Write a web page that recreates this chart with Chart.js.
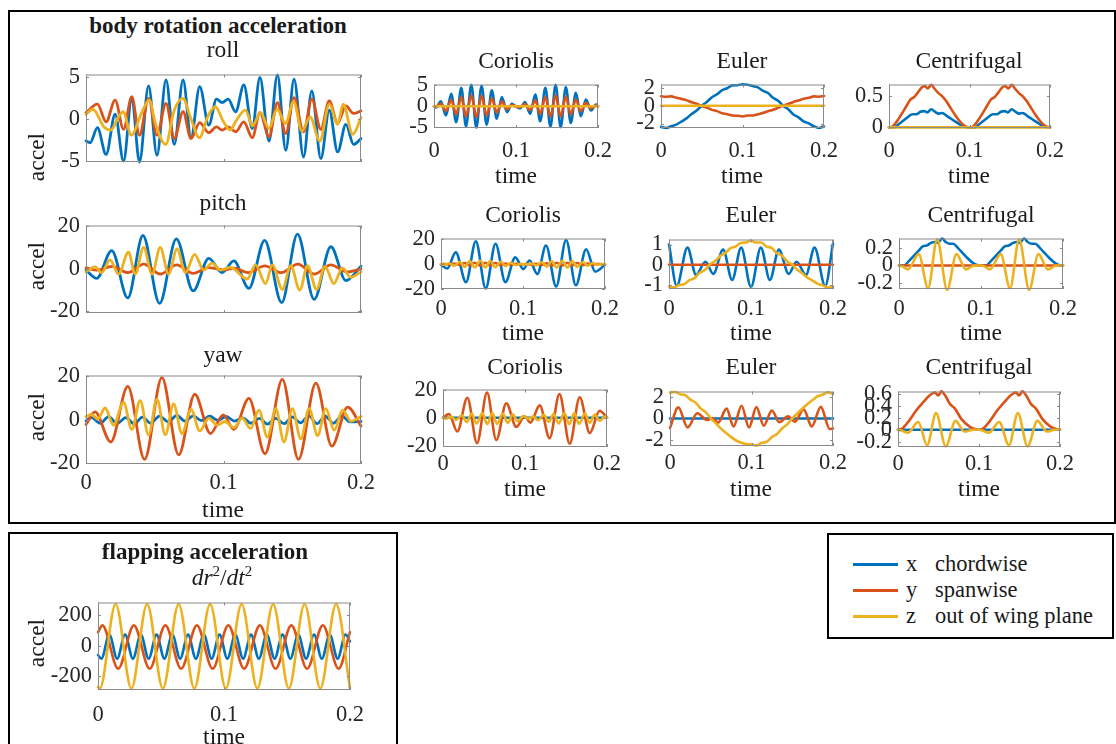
<!DOCTYPE html>
<html>
<head>
<meta charset="utf-8">
<script src="https://cdn.jsdelivr.net/npm/chart.js@4/dist/chart.umd.min.js"></script>
<style>
body { margin:0; background:#fff; width:1116px; height:744px; overflow:hidden; position:relative; font-family:"Liberation Serif", serif; color:#1a1a1a; }
.box { position:absolute; border:2px solid #000; box-sizing:border-box; }
.plot { position:absolute; }
.lbl { position:absolute; transform:translate(-50%,-50%); white-space:nowrap; font-size:23.5px; line-height:1; }
.rot { transform:translate(-50%,-50%) rotate(-90deg); }
.bold { font-weight:bold; font-size:23px; }
.leg { position:absolute; transform:translateY(-50%); font-size:22.5px; line-height:1; white-space:nowrap; }
.swatch { position:absolute; height:3px; width:45px; }
</style>
</head>
<body>
<div class="box" style="left:8px;top:10px;width:1108px;height:514px"></div>
<div class="box" style="left:8px;top:532px;width:390px;height:240px"></div>
<div class="box" style="left:827px;top:533px;width:287px;height:106px"></div>

<script>
// time axis ticks shared by every panel
const timeTicks = [0, 0.1, 0.2];

// body rotation: roll [t, value]
const rollX = [[0,-2.6],[0.003,-2.8],[0.0083,-1.0],[0.0146,-4.2],[0.0212,0.6],[0.0273,-5.0],[0.0333,2.6],[0.0389,-5.1],[0.0455,4.0],[0.0516,-4.3],[0.0582,4.7],[0.0642,-3.0],[0.0706,4.7],[0.0764,-2.2],[0.0827,3.9],[0.0893,-0.7],[0.0949,2.4],[0.099,2.0],[0.1034,2.4],[0.1088,0.9],[0.1148,4.1],[0.1209,-1.1],[0.1265,5.0],[0.1331,-2.6],[0.1392,5.3],[0.1453,-3.7],[0.1513,4.8],[0.1582,-4.5],[0.1642,3.4],[0.1708,-4.7],[0.1769,1.1],[0.183,-3.9],[0.189,-0.6],[0.1946,-3.0],[0.2,-2.3]];
const rollY = [[0,0.8],[0.0083,1.8],[0.0146,-0.3],[0.0212,2.3],[0.0273,-1.2],[0.0333,2.7],[0.0389,-1.9],[0.0455,2.5],[0.0516,-1.9],[0.0582,1.9],[0.0642,-2.3],[0.0706,0.9],[0.0764,-2.3],[0.0827,-0.4],[0.0893,-1.6],[0.0949,-0.9],[0.099,-1.3],[0.1034,-0.9],[0.1088,-1.5],[0.1148,-0.3],[0.1209,-2.2],[0.1265,0.8],[0.1331,-2.1],[0.1392,2.0],[0.1453,-1.7],[0.1513,2.6],[0.1582,-1.5],[0.1642,2.4],[0.1708,-1.2],[0.1769,2.2],[0.183,-0.5],[0.189,1.6],[0.1946,0.7],[0.2,1.0]];
const rollZ = [[0,0.6],[0.005,1.2],[0.013,-0.9],[0.018,-1.3],[0.024,0.4],[0.027,0.9],[0.033,-1.9],[0.04,0.6],[0.046,2.3],[0.0505,-0.5],[0.058,-3.0],[0.064,1.0],[0.0705,2.5],[0.076,0.2],[0.0825,-2.2],[0.0885,0.3],[0.094,1.5],[0.1,-0.3],[0.105,-1.3],[0.109,-0.2],[0.116,1.1],[0.121,-0.8],[0.127,0.8],[0.133,-1.1],[0.139,1.2],[0.145,-0.5],[0.151,2.1],[0.157,-1.4],[0.163,0.3],[0.17,-2.6],[0.177,1.8],[0.183,-0.6],[0.187,1.8],[0.194,-1.8],[0.2,0.2]];

// pitch
const pitchX = [[0,-0.6],[0.0078,-4.5],[0.0187,8.6],[0.0304,-13.7],[0.0414,15.7],[0.0535,-16.3],[0.0657,14.1],[0.0779,-10.4],[0.0893,4.9],[0.099,-1.8],[0.1075,3.7],[0.1185,-9.2],[0.1299,13.4],[0.1423,-15.9],[0.1538,16.3],[0.1659,-14.4],[0.1781,10.4],[0.189,-5.5],[0.2,1.2]];
const pitchY = [[0,0.4],[0.008,-0.6],[0.019,1.2],[0.0305,-1.8],[0.042,2.2],[0.054,-2.5],[0.066,1.9],[0.078,-2.1],[0.089,0.6],[0.1,-0.5],[0.108,0.3],[0.118,-1.8],[0.13,1.4],[0.142,-1.8],[0.154,2.2],[0.166,-2.5],[0.178,1.9],[0.19,-1.5],[0.2,0]];
const pitchZ = [[0,-1.5],[0.0066,0.9],[0.0114,-1.8],[0.0175,4.2],[0.0236,-2.5],[0.0309,7.9],[0.0358,-2.5],[0.0419,10.1],[0.048,-2.5],[0.054,10.1],[0.0601,-2.5],[0.0662,9.4],[0.0723,-1.8],[0.079,6.8],[0.0856,-0.6],[0.0917,2.7],[0.0977,-0.6],[0.105,0.7],[0.1172,-4.8],[0.1233,1.9],[0.1306,-7.0],[0.1355,1.9],[0.1428,-9.7],[0.1489,1.5],[0.1555,-10.0],[0.1611,1.5],[0.1677,-9.7],[0.1738,1.2],[0.1803,-7.0],[0.1864,0.4],[0.1925,-4.0],[0.2,-1.5]];

// yaw
const yawX = [[0,-0.5],[0.004,1.0],[0.0105,-1.6],[0.0165,1.4],[0.0225,-1.8],[0.029,1.0],[0.035,-1.9],[0.041,1.2],[0.047,-1.6],[0.0535,1.7],[0.06,-1.0],[0.066,2.0],[0.072,-0.6],[0.078,1.8],[0.084,-0.4],[0.09,1.6],[0.096,-0.3],[0.102,1.5],[0.108,-0.6],[0.114,0.8],[0.12,-1.6],[0.126,0.6],[0.132,-2.0],[0.138,0.6],[0.144,-1.8],[0.15,1.3],[0.156,-1.4],[0.162,1.8],[0.168,-1.8],[0.174,1.6],[0.18,-1.6],[0.186,1.8],[0.192,-1.0],[0.2,-0.8]];
const yawY = [[0,-2.2],[0.0066,3.6],[0.018,-10.2],[0.0304,15.3],[0.0426,-18.2],[0.0552,19.3],[0.0674,-16.1],[0.0791,11.7],[0.0905,-6.3],[0.0998,2.2],[0.1075,-4.4],[0.1185,9.8],[0.1302,-15.6],[0.1428,18.5],[0.1545,-18.2],[0.1672,16.8],[0.1788,-12.1],[0.1903,5.8],[0.2,-2.9]];
const yawZ = [[0,1.5],[0.004,2.4],[0.0085,0.3],[0.0139,5.4],[0.02,-2.5],[0.0273,8.0],[0.0333,-4.4],[0.0394,8.8],[0.0455,-6.9],[0.0516,9.5],[0.0577,-6.9],[0.0637,7.3],[0.0698,-6.3],[0.0764,4.8],[0.0827,-5.1],[0.0893,0.7],[0.0954,-2.5],[0.101,-0.8],[0.1075,-3.6],[0.1136,0.7],[0.1197,-4.0],[0.1258,4.4],[0.1319,-8.0],[0.138,5.1],[0.144,-10.2],[0.1501,5.1],[0.1562,-8.8],[0.1623,5.1],[0.1684,-7.3],[0.1744,5.1],[0.1805,-4.8],[0.1866,4.4],[0.1927,-0.7],[0.2,1.5]];

// a term that stays at zero
const zeroLine = [[0,0],[0.2,0]];

// Coriolis, row 1 (roll)
const c1X = [[0,0],[0.0025,-0.3],[0.0083,1.2],[0.0146,-2.2],[0.021,3.0],[0.027,-3.8],[0.0333,4.4],[0.039,-4.8],[0.0455,5.1],[0.0516,-5.1],[0.058,4.9],[0.0642,-4.4],[0.0705,3.8],[0.0765,-3.0],[0.0827,2.2],[0.089,-1.4],[0.095,0.6],[0.1,-0.1],[0.105,-0.5],[0.111,1.0],[0.1172,-1.8],[0.1235,2.8],[0.1295,-3.6],[0.1358,4.4],[0.142,-4.9],[0.1483,5.1],[0.1545,-5.0],[0.1608,4.6],[0.1668,-4.0],[0.173,3.2],[0.179,-2.4],[0.1853,1.6],[0.1915,-1.0],[0.1975,0.4],[0.2,0]];
const c1Y = [[0,0],[0.0025,-0.1],[0.0083,0.6],[0.0146,-1.1],[0.021,1.5],[0.027,-1.9],[0.0333,2.2],[0.039,-2.4],[0.0455,2.6],[0.0516,-2.6],[0.058,2.5],[0.0642,-2.2],[0.0705,1.9],[0.0765,-1.5],[0.0827,1.1],[0.089,-0.7],[0.095,0.3],[0.1,0],[0.105,-0.2],[0.111,0.5],[0.1172,-0.9],[0.1235,1.4],[0.1295,-1.8],[0.1358,2.2],[0.142,-2.5],[0.1483,2.6],[0.1545,-2.5],[0.1608,2.3],[0.1668,-2.0],[0.173,1.6],[0.179,-1.2],[0.1853,0.8],[0.1915,-0.5],[0.1975,0.2],[0.2,0]];

// Euler terms share one time grid
const eulerT = [0,0.00625,0.0125,0.01875,0.025,0.03125,0.0375,0.04375,0.05,0.05625,0.0625,0.06875,0.075,0.08125,0.0875,0.09375,0.1,0.10625,0.1125,0.11875,0.125,0.13125,0.1375,0.14375,0.15,0.15625,0.1625,0.16875,0.175,0.18125,0.1875,0.19375,0.2];
const e1X = [-2.38,-2.5,-2.3,-2.12,-1.78,-1.42,-0.92,-0.52,0.02,0.44,0.96,1.3,1.76,1.98,2.3,2.32,2.42,2.38,2.22,2.08,1.7,1.44,0.9,0.56,-0.02,-0.4,-0.98,-1.3,-1.76,-1.98,-2.3,-2.5,-2.32];
const e1Y = [1.08,1.02,1.06,0.92,0.78,0.64,0.4,0.24,-0.02,-0.2,-0.46,-0.6,-0.84,-0.94,-1.1,-1.12,-1.2,-1.1,-1.1,-0.96,-0.82,-0.62,-0.44,-0.22,0.02,0.2,0.44,0.6,0.8,0.9,1.06,1.02,1.1];
const e2Z = [-1.08,-1.12,-1.0,-0.96,-0.76,-0.66,-0.4,-0.26,0.02,0.18,0.44,0.58,0.82,0.9,1.08,1.1,1.2,1.1,1.1,0.9,0.84,0.58,0.46,0.18,0.02,-0.24,-0.42,-0.64,-0.78,-0.94,-1.02,-1.12,-1.08];
const e3Z = [2.45,2.5,2.3,2.2,1.78,1.5,0.96,0.6,0.02,-0.46,-0.96,-1.36,-1.76,-2.08,-2.3,-2.42,-2.45,-2.55,-2.3,-2.2,-1.76,-1.46,-0.94,-0.56,0.0,0.48,0.94,1.38,1.74,2.1,2.26,2.48,2.3];
const e2X = [[0,1.0],[0.0095,-1.05],[0.0225,0.85],[0.033,-0.5],[0.0445,0.15],[0.054,-0.45],[0.066,0.75],[0.077,-0.75],[0.088,0.85],[0.1,-1.1],[0.112,0.85],[0.123,-0.75],[0.134,0.75],[0.146,-0.45],[0.1555,0.15],[0.167,-0.5],[0.1775,0.85],[0.1905,-1.05],[0.2,1.05]];
const e3Y = [[0,-0.9],[0.0102,1.05],[0.0216,-0.85],[0.0335,0.5],[0.0455,-0.15],[0.052,0.05],[0.059,-0.4],[0.0694,0.93],[0.078,-0.76],[0.0878,1.2],[0.097,-0.85],[0.106,1.07],[0.115,-0.68],[0.125,0.75],[0.134,-0.35],[0.145,0.2],[0.153,-0.3],[0.164,0.85],[0.174,-0.76],[0.185,1.1],[0.196,-1.0],[0.2,-0.95]];

// centrifugal
const f1X = [[0,0],[0.006,0],[0.012,0.05],[0.018,0.11],[0.024,0.17],[0.029,0.21],[0.034,0.21],[0.039,0.25],[0.044,0.26],[0.0475,0.24],[0.0525,0.29],[0.057,0.25],[0.062,0.22],[0.066,0.23],[0.072,0.18],[0.078,0.13],[0.084,0.08],[0.09,0.03],[0.095,0.005],[0.1,0],[0.106,0],[0.112,0.05],[0.118,0.11],[0.124,0.17],[0.129,0.21],[0.134,0.21],[0.139,0.25],[0.144,0.26],[0.1475,0.24],[0.1525,0.29],[0.157,0.25],[0.162,0.22],[0.166,0.23],[0.172,0.18],[0.178,0.13],[0.184,0.08],[0.19,0.03],[0.195,0.005],[0.2,0]];
const f1Y = [[0,0],[0.004,0.01],[0.01,0.1],[0.016,0.22],[0.022,0.35],[0.027,0.45],[0.031,0.48],[0.036,0.56],[0.041,0.64],[0.0445,0.66],[0.048,0.62],[0.0525,0.68],[0.057,0.61],[0.062,0.54],[0.066,0.5],[0.071,0.42],[0.077,0.3],[0.083,0.18],[0.089,0.08],[0.095,0.015],[0.1,0],[0.104,0.01],[0.11,0.1],[0.116,0.22],[0.122,0.35],[0.127,0.45],[0.131,0.48],[0.136,0.56],[0.141,0.64],[0.1445,0.66],[0.148,0.62],[0.1525,0.68],[0.157,0.61],[0.162,0.54],[0.166,0.5],[0.171,0.42],[0.177,0.3],[0.183,0.18],[0.189,0.08],[0.195,0.015],[0.2,0]];
const f2X = [[0,0],[0.006,0],[0.012,0.05],[0.018,0.11],[0.024,0.17],[0.029,0.22],[0.034,0.23],[0.039,0.26],[0.044,0.27],[0.0475,0.26],[0.0525,0.31],[0.057,0.27],[0.062,0.25],[0.066,0.25],[0.072,0.2],[0.078,0.14],[0.084,0.08],[0.09,0.03],[0.095,0.005],[0.1,0],[0.106,0],[0.112,0.05],[0.118,0.11],[0.124,0.17],[0.129,0.22],[0.134,0.23],[0.139,0.26],[0.144,0.27],[0.1475,0.26],[0.1525,0.31],[0.157,0.27],[0.162,0.25],[0.166,0.25],[0.172,0.2],[0.178,0.14],[0.184,0.08],[0.19,0.03],[0.195,0.005],[0.2,0]];
const f2Z = [[0,0],[0.004,-0.01],[0.011,-0.045],[0.024,0.13],[0.0355,-0.26],[0.0465,0.3],[0.0588,-0.28],[0.07,0.13],[0.0816,-0.045],[0.092,0],[0.1,0],[0.104,-0.01],[0.111,-0.045],[0.124,0.13],[0.1355,-0.26],[0.1465,0.3],[0.1588,-0.28],[0.17,0.13],[0.1816,-0.045],[0.192,0],[0.2,0]];
const f3Y = [[0,0],[0.005,0.02],[0.0124,0.13],[0.0227,0.33],[0.0309,0.46],[0.0392,0.58],[0.0454,0.63],[0.0495,0.58],[0.0536,0.65],[0.059,0.56],[0.0639,0.44],[0.0701,0.36],[0.0784,0.18],[0.0887,0.05],[0.097,0.005],[0.1,0],[0.105,0.02],[0.1124,0.13],[0.1227,0.33],[0.1309,0.46],[0.1392,0.58],[0.1454,0.63],[0.1495,0.58],[0.1536,0.65],[0.159,0.56],[0.1639,0.44],[0.1701,0.36],[0.1784,0.18],[0.1887,0.05],[0.197,0.005],[0.2,0]];
const f3Z = [[0,0],[0.004,-0.01],[0.012,-0.05],[0.025,0.13],[0.036,-0.26],[0.047,0.28],[0.059,-0.28],[0.071,0.15],[0.082,-0.03],[0.093,0],[0.1,0],[0.104,-0.01],[0.112,-0.05],[0.125,0.13],[0.137,-0.26],[0.148,0.28],[0.16,-0.28],[0.172,0.15],[0.184,-0.03],[0.193,0],[0.2,0]];

// Coriolis rows 2 and 3
const c2X = [[0,-0.5],[0.0075,-3.5],[0.018,9.5],[0.0305,-14.5],[0.0425,18.5],[0.0545,-19.5],[0.0665,16.5],[0.0785,-14.5],[0.0905,5.5],[0.1005,-4.0],[0.108,3.0],[0.1175,-8.0],[0.128,15.0],[0.1405,-18.0],[0.1525,19.5],[0.1645,-17.0],[0.177,12.0],[0.188,-6.0],[0.2,-0.5]];
const c2T = [0,0.004,0.010,0.016,0.023,0.029,0.035,0.041,0.048,0.054,0.060,0.066,0.073,0.079,0.085,0.091,0.098,0.104,0.110,0.116,0.123,0.129,0.135,0.141,0.148,0.154,0.160,0.166,0.173,0.179,0.185,0.191,0.198,0.2];
const c2Y = [0,0.2,-0.3,0.5,-0.7,0.9,-1.0,1.1,-1.1,1.1,-1.0,0.9,-0.8,0.6,-0.5,0.3,-0.1,0.1,-0.2,0.4,-0.6,0.8,-1.0,1.1,-1.1,1.1,-1.0,0.9,-0.7,0.5,-0.4,0.2,-0.1,0];
const c2Z = [0,-0.5,0.8,-1.2,1.8,-2.2,2.6,-2.6,2.8,-2.6,2.6,-2.4,2.0,-1.6,1.2,-0.7,0.3,-0.3,0.6,-1.0,1.6,-2.0,2.5,-2.7,2.8,-2.7,2.5,-2.2,1.8,-1.3,0.9,-0.5,0.2,0];
const c3Y = [[0,0],[0.0073,2.6],[0.0175,-9.9],[0.0297,14.3],[0.0415,-18.2],[0.0537,18.0],[0.065,-16.0],[0.0772,10.3],[0.0894,-6.6],[0.0995,1.0],[0.1065,-3.5],[0.118,8.8],[0.13,-14.7],[0.142,16.9],[0.1545,-18.7],[0.1667,14.7],[0.179,-11.0],[0.191,5.0],[0.2,0]];
const c3Z = [0,-0.8,0.6,-1.6,1.8,-3.2,3.0,-4.2,3.4,-4.6,3.4,-4.4,3.0,-3.8,2.4,-2.6,1.2,-0.8,0.8,-1.8,2.0,-3.0,2.8,-4.2,3.4,-4.6,3.4,-4.4,3.0,-3.6,2.2,-2.2,0.8,0];

// flapping dr^2/dt^2
const flapX = [[0,-60],[0.0027,-85],[0.009,75],[0.0152,-85],[0.0215,75],[0.0277,-85],[0.034,75],[0.0402,-85],[0.0465,75],[0.0527,-85],[0.059,75],[0.0652,-85],[0.0715,75],[0.0777,-85],[0.084,75],[0.0902,-85],[0.0965,75],[0.1027,-85],[0.109,75],[0.1152,-85],[0.1215,75],[0.1277,-85],[0.134,75],[0.1402,-85],[0.1465,75],[0.1527,-85],[0.159,75],[0.1652,-85],[0.1715,75],[0.1777,-85],[0.184,75],[0.1902,-85],[0.1965,75],[0.2,30]];
const flapY = [[0,90],[0.0035,135],[0.016,-150],[0.0285,135],[0.041,-150],[0.0535,135],[0.066,-150],[0.0785,135],[0.091,-150],[0.1035,135],[0.116,-150],[0.1285,135],[0.141,-150],[0.1535,135],[0.166,-150],[0.1785,135],[0.191,-150],[0.2,90]];
const flapZ = [[0,-270],[0.0015,-280],[0.014,275],[0.0265,-280],[0.039,275],[0.0515,-280],[0.064,275],[0.0765,-280],[0.089,275],[0.1015,-280],[0.114,275],[0.1265,-280],[0.139,275],[0.1515,-280],[0.164,275],[0.1765,-280],[0.189,275],[0.2,-278]];

const colors = ['#0072BD', '#D95319', '#EDB120'];
const zip = (ts, vs) => ts.map((t, i) => [t, vs[i]]);

// panels: plot-area rectangle [left, top, right, bottom] in page pixels
const panels = [
  { r:[86,69,361,162],  y:[-5.1,5.35],   yt:[-5,0,5],   s:[rollX, rollY, rollZ], showX:false, lw:2.8 },
  { r:[86,220,361,313], y:[-20.8,20.4],  yt:[-20,0,20], s:[pitchX, pitchY, pitchZ], showX:false, lw:2.8 },
  { r:[86,370,361,464], y:[-20.3,20.3],  yt:[-20,0,20], s:[yawX, yawY, yawZ], showX:true, xPad:6, lw:2.8 },
  { r:[434,79,598,128], y:[-5.2,5.2],    yt:[-5,0,5],   s:[c1X, c1Y, zeroLine], showX:true, xPad:10, lw:2.6 },
  { r:[661,79,824,128], y:[-2.5,2.4],    yt:[-2,0,2],   s:[zip(eulerT,e1X), zip(eulerT,e1Y), zeroLine], showX:true, xPad:10, lw:2.6 },
  { r:[889,79,1050,128],y:[-0.01,0.685], yt:[0,0.5],    s:[f1X, f1Y, zeroLine], showX:true, xPad:10, lw:2.6 },
  { r:[441,233,605,289],y:[-20,20.7],    yt:[-20,0,20], s:[c2X, zip(c2T,c2Y), zip(c2T,c2Z)], showX:true, xPad:7, lw:2.6 },
  { r:[669,234,833,289],y:[-1.2,1.25],   yt:[-1,0,1],   s:[e2X, zeroLine, zip(eulerT,e2Z)], showX:true, xPad:7, lw:2.6 },
  { r:[899,233,1063,289],y:[-0.27,0.31], yt:[-0.2,0,0.2], s:[f2X, zeroLine, f2Z], showX:true, xPad:7, lw:2.6 },
  { r:[443,384,607,447],y:[-21,20.2],    yt:[-20,0,20], s:[zeroLine, c3Y, zip(c2T,c3Z)], showX:true, xPad:4, lw:2.6 },
  { r:[670,386,833,446],y:[-2.6,2.55],   yt:[-2,0,2],   s:[zeroLine, e3Y, zip(eulerT,e3Z)], showX:true, xPad:4, lw:2.6 },
  { r:[898,386,1060,447],y:[-0.29,0.645],yt:[-0.2,0,0.2,0.4,0.6], s:[zeroLine, f3Y, f3Z], showX:true, xPad:4, lw:2.6 },
  { r:[98,597,350,690], y:[-290,285],    yt:[-200,0,200], s:[flapX, flapY, flapZ], showX:true, xPad:12, lw:2.6 }
];

const tickFont = { family:'"Liberation Serif", serif', size:22.5 };

// matlab style box with inward ticks
const axesBox = {
  id: 'axesBox',
  afterDraw(chart) {
    const { ctx, chartArea: a, scales } = chart;
    ctx.save();
    ctx.strokeStyle = '#8a8a8a';
    ctx.lineWidth = 1;
    ctx.strokeRect(a.left + 0.5, a.top + 0.5, a.width - 1, a.height - 1);
    ctx.beginPath();
    scales.x.ticks.forEach(t => {
      const px = Math.round(scales.x.getPixelForValue(t.value)) + 0.5;
      ctx.moveTo(px, a.bottom); ctx.lineTo(px, a.bottom - 3);
      ctx.moveTo(px, a.top); ctx.lineTo(px, a.top + 3);
    });
    scales.y.ticks.forEach(t => {
      const py = Math.round(scales.y.getPixelForValue(t.value)) + 0.5;
      ctx.moveTo(a.left, py); ctx.lineTo(a.left + 3, py);
      ctx.moveTo(a.right, py); ctx.lineTo(a.right - 3, py);
    });
    ctx.stroke();
    ctx.restore();
  }
};

const padL = 70, padT = 14, padR = 26, padB = 40;

panels.forEach(p => {
  const w = p.r[2] - p.r[0], h = p.r[3] - p.r[1];
  const div = document.createElement('div');
  div.className = 'plot';
  div.style.left = (p.r[0] - padL) + 'px';
  div.style.top = (p.r[1] - padT) + 'px';
  div.style.width = (w + padL + padR) + 'px';
  div.style.height = (h + padT + padB) + 'px';
  const cv = document.createElement('canvas');
  div.appendChild(cv);
  document.body.appendChild(div);

  new Chart(cv, {
    type: 'line',
    data: {
      datasets: p.s.map((d, i) => ({
        data: d,
        borderColor: colors[i],
        borderWidth: p.lw,
        pointRadius: 0,
        fill: false,
        cubicInterpolationMode: 'monotone',
        borderJoinStyle: 'round',
        borderCapStyle: 'round',
        order: 3 - i,
        clip: false
      }))
    },
    options: {
      animation: false,
      responsive: true,
      maintainAspectRatio: false,
      events: [],
      layout: { padding: { left: 0, top: padT, right: padR, bottom: 0 } },
      plugins: { legend: { display: false }, tooltip: { enabled: false } },
      scales: {
        x: {
          type: 'linear', min: 0, max: 0.2,
          grid: { display: false, drawTicks: false },
          border: { display: false },
          afterBuildTicks: s => { s.ticks = timeTicks.map(v => ({ value: v })); },
          afterFit: s => { s.height = padB; },
          ticks: { display: p.showX, autoSkip: false, maxRotation: 0, padding: p.xPad || 6,
                   font: tickFont, color: '#262626', callback: v => String(v) }
        },
        y: {
          type: 'linear', min: p.y[0], max: p.y[1],
          grid: { display: false, drawTicks: false },
          border: { display: false },
          afterBuildTicks: s => { s.ticks = p.yt.map(v => ({ value: v })); },
          afterFit: s => { s.width = padL; },
          ticks: { autoSkip: false, padding: 6, font: tickFont, color: '#262626', callback: v => String(v) }
        }
      }
    },
    plugins: [axesBox]
  });
});

// text labels: [text, x, y, class]
const labels = [
  ['body rotation acceleration', 218, 25, 'bold'],
  ['roll', 223, 50, ''], ['pitch', 223, 203, ''], ['yaw', 223, 355, ''],
  ['Coriolis', 516, 61, ''], ['Euler', 742, 61, ''], ['Centrifugal', 969, 61, ''],
  ['Coriolis', 523, 215, ''], ['Euler', 751, 215, ''], ['Centrifugal', 981, 215, ''],
  ['Coriolis', 525, 367, ''], ['Euler', 751, 367, ''], ['Centrifugal', 979, 367, ''],
  ['time', 516, 176, ''], ['time', 742, 176, ''], ['time', 969, 176, ''],
  ['time', 523, 333, ''], ['time', 751, 333, ''], ['time', 981, 333, ''],
  ['time', 525, 489, ''], ['time', 751, 489, ''], ['time', 979, 489, ''],
  ['time', 223, 510, ''], ['time', 224, 737, ''],
  ['accel', 37, 157, 'rot'], ['accel', 37, 266, 'rot'], ['accel', 37, 417, 'rot'], ['accel', 37, 643, 'rot'],
  ['flapping acceleration', 205, 551, 'bold']
];
labels.forEach(([t, x, y, c]) => {
  const d = document.createElement('div');
  d.className = 'lbl ' + c;
  d.style.left = x + 'px';
  d.style.top = y + 'px';
  d.textContent = t;
  document.body.appendChild(d);
});

const dr = document.createElement('div');
dr.className = 'lbl';
dr.style.left = '222px';
dr.style.top = '577px';
dr.innerHTML = '<i>dr</i><sup style="font-size:15px">2</sup>/<i>dt</i><sup style="font-size:15px">2</sup>';
document.body.appendChild(dr);

// legend
const legendNames = [['x', 'chordwise'], ['y', 'spanwise'], ['z', 'out of wing plane']];
const legendY = [564, 590, 616];
legendNames.forEach(([a, b], i) => {
  const sw = document.createElement('div');
  sw.className = 'swatch';
  sw.style.left = '853px';
  sw.style.top = (legendY[i] - 1) + 'px';
  sw.style.background = colors[i];
  document.body.appendChild(sw);
  const l1 = document.createElement('div');
  l1.className = 'leg';
  l1.style.left = '906px';
  l1.style.top = legendY[i] + 'px';
  l1.textContent = a;
  document.body.appendChild(l1);
  const l2 = document.createElement('div');
  l2.className = 'leg';
  l2.style.left = '935px';
  l2.style.top = legendY[i] + 'px';
  l2.textContent = b;
  document.body.appendChild(l2);
});
</script>
</body>
</html>
